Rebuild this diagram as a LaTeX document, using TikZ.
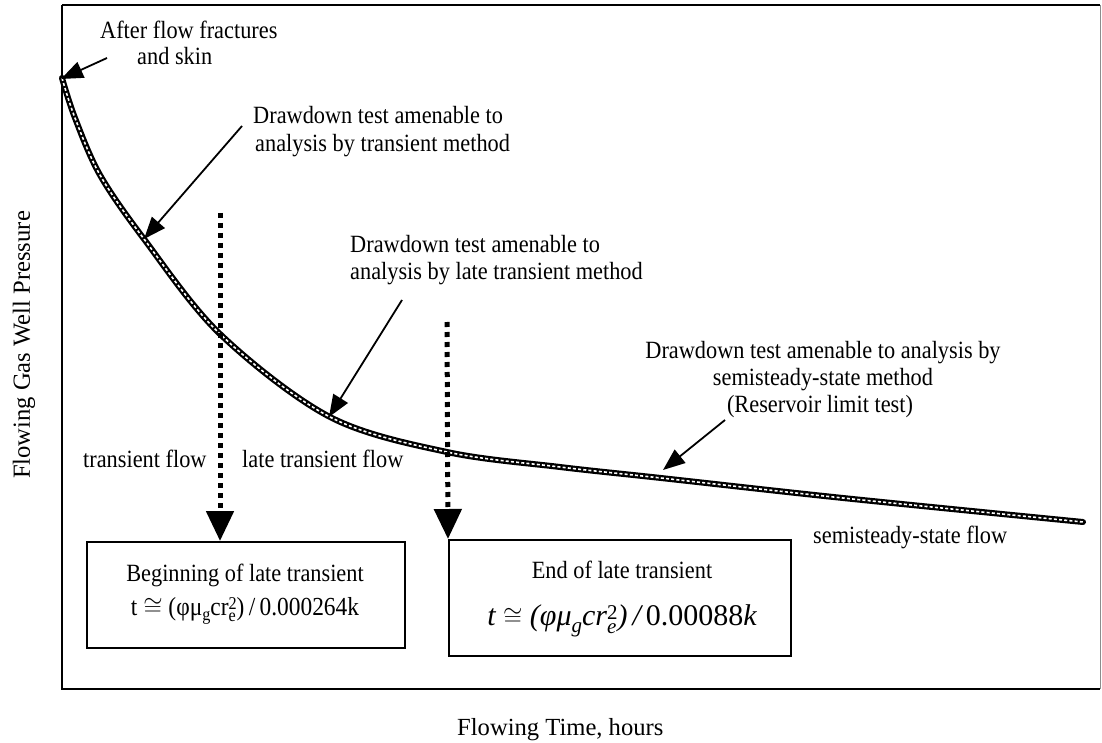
\documentclass[tikz,border=0pt]{standalone}
\usepackage{fontspec}
\setmainfont{Liberation Serif}
\newfontfamily\annfont{Liberation Serif}[FakeStretch=0.9]
\usetikzlibrary{arrows.meta}
\newcommand{\mydn}[3]{\raisebox{#1}{\fontsize{#2}{#2}\selectfont #3}}
\newcommand{\mystack}[4]{\smash{\raisebox{#1}{\fontsize{#2}{#2}\selectfont\begin{tabular}[b]{@{}l@{}}#3\\[-0.35em]#4\end{tabular}}}}
\begin{document}
\begin{tikzpicture}[x=1pt,y=-1pt,
  ann/.style={font=\annfont\fontsize{24.8}{27}\selectfont, inner sep=0pt, anchor=base west},
  axlabel/.style={font=\fontsize{24.6}{27}\selectfont, inner sep=0pt},
  pointer/.style={line width=1.8pt, -{Triangle[length=22pt,width=17pt]}},
  dotarrow/.style={line width=5pt, dash pattern=on 5pt off 5pt, -{Triangle[length=30pt,width=27pt]}},
  infobox/.style={draw, line width=1.8pt},
  framel/.style={line width=1.4pt}
]
\useasboundingbox (0,0) rectangle (1102,743);
% frame
\draw[framel] (62,5) -- (1100,5);
\draw[framel] (62,5) -- (62,689) -- (1100,689);
\draw[line width=1pt, black!45] (1100,5) -- (1100,689);

% curve
\def\curvepts{(62,78) (75,118) (100,175) (144,239) (220,334) (330,417) (447,452) (560,467) (661,478) (843,498) (1083,522)}
\draw[line width=6pt, line cap=round] plot[smooth, tension=0.55] coordinates {\curvepts};
\draw[line width=1.6pt, white, dash pattern=on 3pt off 2.2pt] plot[smooth, tension=0.55] coordinates {\curvepts};

% boxes
\node[infobox, minimum width=318pt, minimum height=106pt, anchor=north west] (box1) at (86,541) {};
\node[infobox, minimum width=342pt, minimum height=116pt, anchor=north west] (box2) at (448,539) {};

% dotted arrows
\coordinate (d1s) at (220,213);
\coordinate (d2s) at (447,322);
\draw[dotarrow] (d1s) -- (box1.north west -| d1s);
\draw[dotarrow] (d2s) -- (box2.north west);

% annotations
\node[ann] (a1a) at (100,39) {After flow fractures};
\node[ann] (a1b) at (137,65) {and skin};
\node[ann] (a2a) at (253,124) {Drawdown test amenable to};
\node[ann] (a2b) at (255,152) {analysis by transient method};
\node[ann] (a3a) at (350,253) {Drawdown test amenable to};
\node[ann] (a3b) at (350,279) {analysis by late transient method};
\node[ann, anchor=base] (a4a) at (823,358) {Drawdown test amenable to analysis by};
\node[ann, anchor=base] (a4b) at (823,385) {semisteady-state method};
\node[ann, anchor=base] (a4c) at (820,412) {(Reservoir limit test)};
\node[ann] (tf) at (83,467) {transient flow};
\node[ann] (ltf) at (242,467) {late transient flow};
\node[ann] (ssf) at (813,543) {semisteady-state flow};

% pointers
\coordinate (p1s) at (107,58);  \coordinate (p1t) at (61,79);
\coordinate (p2s) at (242,126); \coordinate (p2t) at (144,239);
\coordinate (p3s) at (402,300); \coordinate (p3t) at (329,417);
\coordinate (p4s) at (725,420); \coordinate (p4t) at (663,470);
\draw[pointer] (p1s) -- (p1t);
\draw[pointer] (p2s) -- (p2t);
\draw[pointer] (p3s) -- (p3t);
\draw[pointer] (p4s) -- (p4t);

% box texts
\node[ann, anchor=base] (b1t) at (245,581) {Beginning of late transient};
\node[inner sep=0pt, anchor=base, font=\annfont\fontsize{26}{28}\selectfont] (b1f) at (245,615) {t $\cong$ (φμ\mydn{-5pt}{18}{g}cr\mystack{-6pt}{18}{2}{e})\,/\,0.000264k};
\node[ann, anchor=base] (b2t) at (622,578) {End of late transient};
\node[inner sep=0pt, anchor=base, font=\fontsize{30}{32}\selectfont] (b2f) at (622,625) {\itshape t $\cong$ (φμ\mydn{-7pt}{21}{g}cr\mystack{-8pt}{21}{\upshape 2}{e})\,/\,{\upshape 0.00088}k};

% axis labels
\node[axlabel, anchor=base west] (xlab) at (457,735) {Flowing Time, hours};
\node[axlabel, rotate=90] (ylab) at (24,345) {Flowing Gas Well Pressure};
\end{tikzpicture}
\end{document}
